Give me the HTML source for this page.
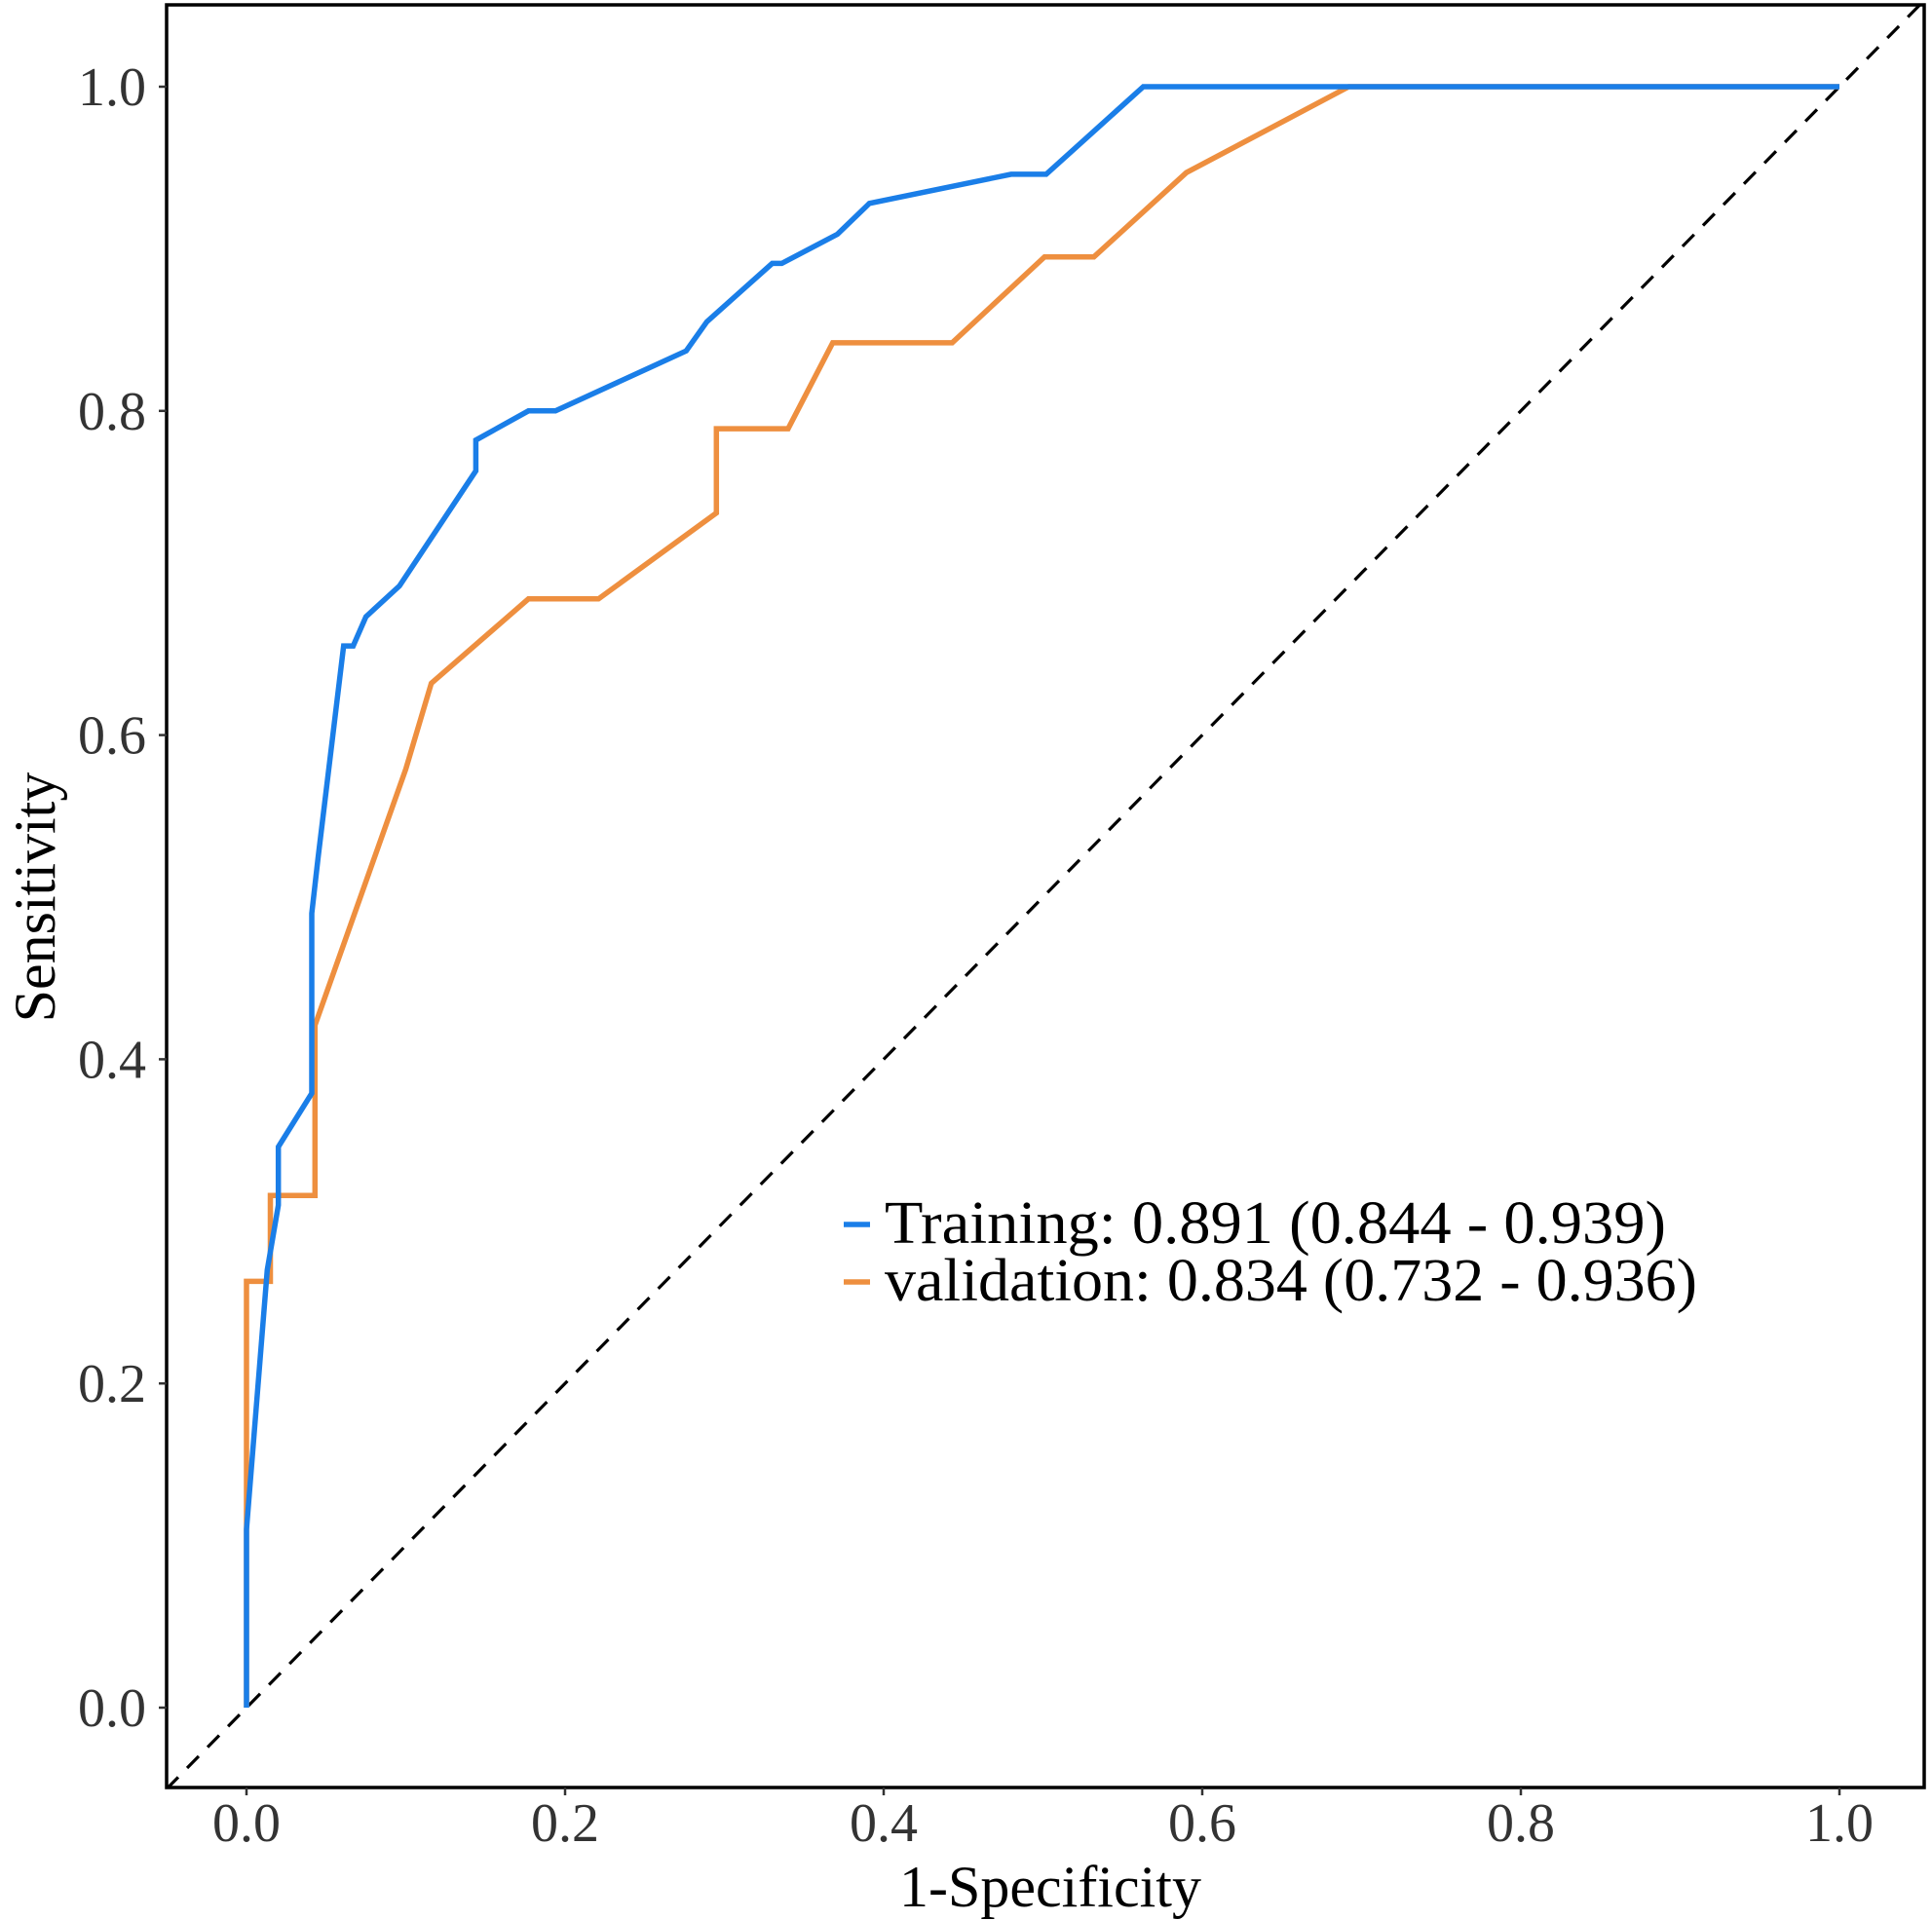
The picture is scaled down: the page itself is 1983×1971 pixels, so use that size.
<!DOCTYPE html>
<html><head><meta charset="utf-8"><style>
html,body{margin:0;padding:0;background:#fff;}
svg{display:block;font-family:"Liberation Serif",serif;}
</style></head><body>
<svg id="chart" width="1983" height="1971" viewBox="0 0 1983 1971" xmlns="http://www.w3.org/2000/svg">
<rect x="0" y="0" width="1983" height="1971" fill="#fff"/>
<g id="plot"></g>
</svg>
<script>
const xTicks = [0, 0.2, 0.4, 0.6, 0.8, 1.0];
const yTicks = [0, 0.2, 0.4, 0.6, 0.8, 1.0];
const tickLabels = ["0.0", "0.2", "0.4", "0.6", "0.8", "1.0"];
const trainFpr = [0,0,0.013,0.02,0.02,0.041,0.041,0.045,0.061,0.067,0.075,0.096,0.144,0.144,0.177,0.194,0.276,0.289,0.330,0.336,0.371,0.391,0.480,0.502,0.563,1];
const trainTpr = [0,0.11,0.27,0.31,0.346,0.379,0.49,0.525,0.655,0.655,0.673,0.692,0.763,0.782,0.8,0.8,0.837,0.855,0.891,0.891,0.909,0.928,0.946,0.946,1,1];
const valFpr = [0,0,0.015,0.015,0.043,0.043,0.100,0.116,0.177,0.221,0.295,0.295,0.340,0.368,0.443,0.501,0.532,0.590,0.692,1];
const valTpr = [0,0.263,0.263,0.316,0.316,0.421,0.579,0.632,0.684,0.684,0.737,0.789,0.789,0.842,0.842,0.895,0.895,0.947,1,1];
const legendLabels = ["Training: 0.891 (0.844 - 0.939)", "validation: 0.834 (0.732 - 0.936)"];

const NS = "http://www.w3.org/2000/svg";
const L = 171, R = 1975, T = 5, B = 1835;
function sx(v){ return 253 + v * 1635; }
function sy(v){ return 1753 - v * 1664; }
const g = document.getElementById('plot');
function mk(tag, attrs){ const e = document.createElementNS(NS, tag); for (const k in attrs) e.setAttribute(k, attrs[k]); g.appendChild(e); return e; }

const defs = mk('defs', {});
const cp = document.createElementNS(NS, 'clipPath'); cp.setAttribute('id', 'pc');
const cr = document.createElementNS(NS, 'rect'); cr.setAttribute('x', L); cr.setAttribute('y', T); cr.setAttribute('width', R - L); cr.setAttribute('height', B - T);
cp.appendChild(cr); defs.appendChild(cp);

const xa = (L - 253) / 1635, xb = (R - 253) / 1635;
const diag = mk('line', {x1: sx(xa), y1: sy(xa), x2: sx(xb), y2: sy(xb), stroke: '#000', 'stroke-width': 3.2, 'stroke-dasharray': '17 13', 'clip-path': 'url(#pc)'});



function poly(xs, ys, color, name){
  const pts = xs.map((x, i) => sx(x).toFixed(1) + ',' + sy(ys[i]).toFixed(1)).join(' ');
  const p = mk('polyline', {points: pts, fill: 'none', stroke: color, 'stroke-width': 5.5, 'stroke-linejoin': 'miter', 'clip-path': 'url(#pc)'});
  
  
}
poly(valFpr, valTpr, '#ee8f3f', 'validation-roc-curve');
poly(trainFpr, trainTpr, '#1a7ee8', 'training-roc-curve');

const border = mk('rect', {x: L, y: T, width: R - L, height: B - T, fill: 'none', stroke: '#000', 'stroke-width': 3.5});



xTicks.forEach((v, i) => {
  const t = mk('line', {x1: sx(v), y1: B, x2: sx(v), y2: B + 8, stroke: '#333', 'stroke-width': 2.5});
  
  
  const lab = mk('text', {x: sx(v), y: 1890, 'text-anchor': 'middle', 'font-size': 56, fill: '#333'});
  lab.textContent = tickLabels[i];
  
  
});
yTicks.forEach((v, i) => {
  const t = mk('line', {x1: L - 8, y1: sy(v), x2: L, y2: sy(v), stroke: '#333', 'stroke-width': 2.5});
  
  
  const lab = mk('text', {x: 150, y: sy(v) + 19, 'text-anchor': 'end', 'font-size': 56, fill: '#333'});
  lab.textContent = tickLabels[i];
  
  
});

const xt = mk('text', {x: 1078, y: 1957, 'text-anchor': 'middle', 'font-size': 60, fill: '#000'});
xt.textContent = '1-Specificity';


const yt = mk('text', {x: 0, y: 0, 'text-anchor': 'middle', 'font-size': 60, fill: '#000', transform: 'translate(56,921) rotate(-90)'});
yt.textContent = 'Sensitivity';



const legColors = ['#1a7ee8', '#ee8f3f'];
const legY = [1257, 1316];
legendLabels.forEach((txt, i) => {
  const k = mk('line', {x1: 866, y1: legY[i], x2: 893, y2: legY[i], stroke: legColors[i], 'stroke-width': 5.5});
  
  
  const t = mk('text', {x: 908, y: legY[i] + 19, 'font-size': 62, fill: '#000', textLength: i === 0 ? 802 : 834, lengthAdjust: 'spacingAndGlyphs'});
  t.textContent = txt;
  
  
});
</script>
</body></html>
